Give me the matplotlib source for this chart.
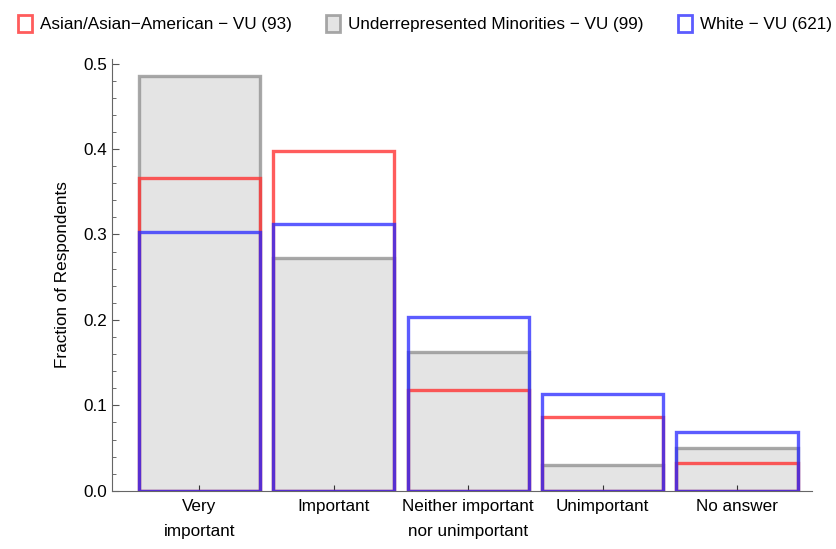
import numpy as np
import matplotlib.pyplot as plt
from matplotlib.patches import Patch
from matplotlib.ticker import MultipleLocator

plt.rcParams['font.family'] = ['Liberation Sans', 'DejaVu Sans']

categories = ['Very\nimportant', 'Important', 'Neither important\nnor unimportant',
              'Unimportant', 'No answer']
asian = [0.366, 0.398, 0.118, 0.086, 0.032]
urm = [0.485, 0.273, 0.162, 0.030, 0.0505]
white = [0.303, 0.312, 0.203, 0.113, 0.069]
labels = ['Asian/Asian\u2212American \u2212 VU (93)',
          'Underrepresented Minorities \u2212 VU (99)',
          'White \u2212 VU (621)']

fs = 12.3
fig = plt.figure(figsize=(8.37, 5.49), dpi=100)
ax = fig.add_axes([0.134, 0.106, 0.836, 0.786])

x = np.arange(len(categories))
w = 0.9
red = (1.0, 0.2, 0.2, 0.8)
gray = (0.55, 0.55, 0.55, 0.75)
blue = (0.15, 0.15, 1.0, 0.75)

# gray bars filled, red and blue as outlines on top
ax.bar(x, urm, width=w, facecolor='#e4e4e4', edgecolor=gray, linewidth=2.4, zorder=1)
ax.bar(x, asian, width=w, facecolor='none', edgecolor=red, linewidth=2.4, zorder=2)
ax.bar(x, white, width=w, facecolor='none', edgecolor=blue, linewidth=2.4, zorder=3)

ax.set_xlim(-0.647, 4.557)
ax.set_ylim(0, 0.505)
ax.set_xticks(x)
ax.set_xticklabels(categories, fontsize=fs, linespacing=1.8, va='top')
ax.yaxis.set_major_locator(MultipleLocator(0.1))
ax.yaxis.set_minor_locator(MultipleLocator(0.02))
ax.tick_params(axis='y', which='major', direction='in', length=5, labelsize=fs, color='#555555')
ax.tick_params(axis='y', which='minor', direction='in', length=3, color='#555555')
ax.tick_params(axis='x', direction='in', length=4, labelsize=fs, color='#333333', pad=6)
ax.set_ylabel('Fraction of Respondents', fontsize=fs, labelpad=10)
for s in ['top', 'right']:
    ax.spines[s].set_visible(False)
for s in ['left', 'bottom']:
    ax.spines[s].set_color('#666666')

handles = [Patch(facecolor='white', edgecolor=red, linewidth=2),
           Patch(facecolor='#e4e4e4', edgecolor=gray, linewidth=2),
           Patch(facecolor='white', edgecolor=blue, linewidth=2)]
fig.legend(handles, labels, loc='upper center', bbox_to_anchor=(0.508, 1.0), ncol=3,
           frameon=False, fontsize=fs, handlelength=0.8, handleheight=1.1,
           handletextpad=0.5, columnspacing=2.0)

plt.savefig('out.png', dpi=100)
